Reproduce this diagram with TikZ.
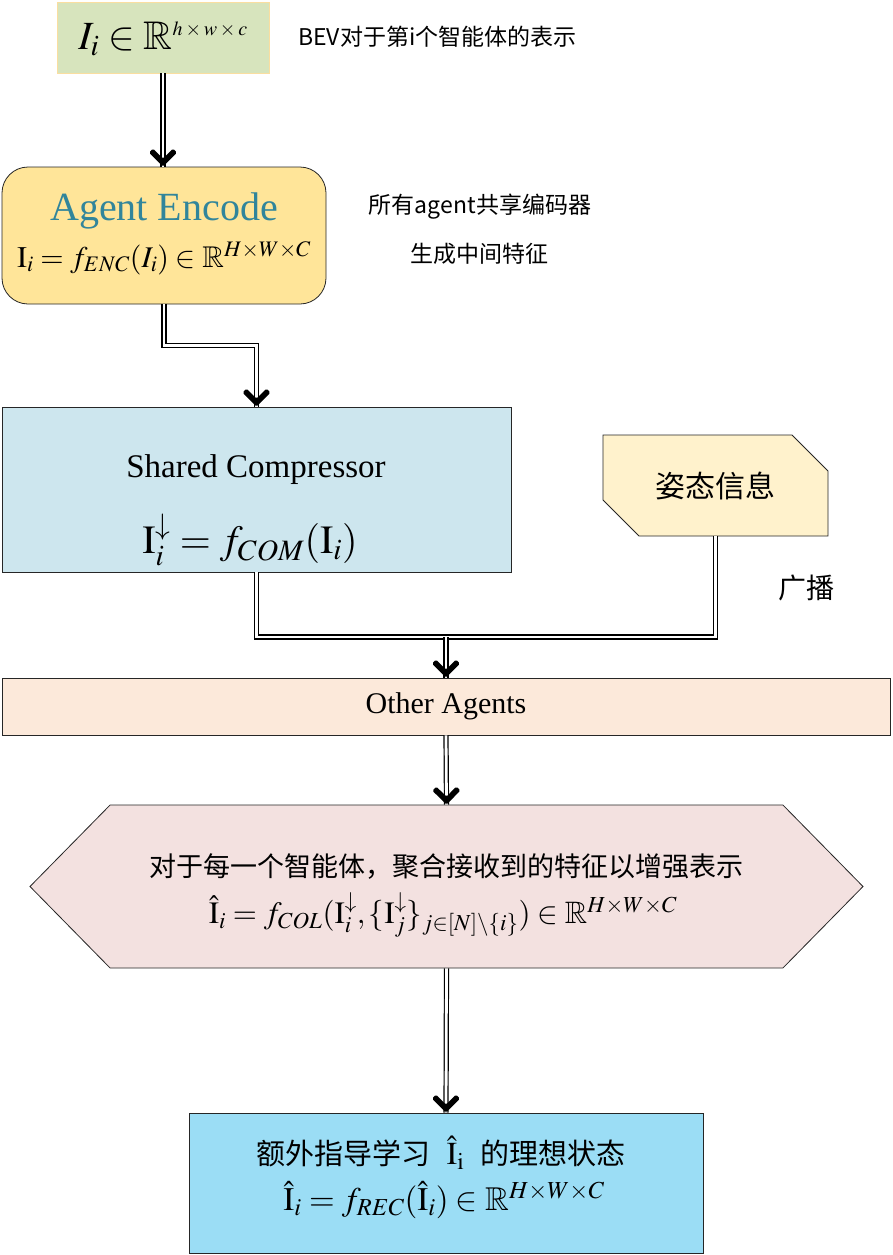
\documentclass[tikz,border=0pt]{standalone}
\usepackage{amsmath,amssymb}
\usepackage{mathptmx}
\usepackage{fontspec}
\setmainfont{Liberation Serif}
\newfontfamily\cjk{Noto Sans CJK SC}
\usetikzlibrary{shapes.misc, shapes.symbols, decorations.markings}
\definecolor{bevgreen}{RGB}{215,228,189}
\definecolor{bevedge}{RGB}{250,222,160}
\definecolor{encfill}{RGB}{255,229,153}
\definecolor{encteal}{RGB}{49,133,155}
\definecolor{compfill}{RGB}{205,230,238}
\definecolor{posefill}{RGB}{255,242,204}
\definecolor{otherfill}{RGB}{252,233,218}
\definecolor{colfill}{RGB}{243,225,224}
\definecolor{recfill}{RGB}{155,221,245}
\tikzset{
  flowline/.style={double=white, double distance=2.8pt, line width=1.2pt},
  flow/.style={flowline, postaction={decorate}, decoration={markings,
    mark=at position 1 with {\fill[black, rounded corners=1.5pt] (0pt,0pt) -- (-14pt,14pt) -- (-18pt,10pt)
      -- (-8pt,0pt) -- (-18pt,-10pt) -- (-14pt,-14pt) -- cycle;}}},
  box/.style={draw=black!85, line width=0.8pt, align=center, inner sep=0pt},
  inbox/.style={box, draw=bevedge, fill=bevgreen, minimum width=212, minimum height=71},
  encbox/.style={box, fill=encfill, rounded corners=26pt, minimum width=324, minimum height=137},
  compbox/.style={box, fill=compfill, minimum width=509, minimum height=165},
  posebox/.style={box, fill=posefill, chamfered rectangle, chamfered rectangle corners={north east, south west},
    chamfered rectangle sep=22pt, minimum width=225, minimum height=101},
  otherbox/.style={box, fill=otherfill, minimum width=888, minimum height=57},
  colbox/.style={box, fill=colfill, signal, signal to=east and west, signal pointer angle=91,
    minimum width=833, minimum height=163},
  recbox/.style={box, fill=recfill, minimum width=514, minimum height=140},
  sidetext/.style={font=\fontsize{23}{26}\selectfont\cjk, inner sep=0pt},
}
\newcommand{\supsz}[1]{\mbox{\fontsize{20}{20}\selectfont$#1$}}
\begin{document}
\begin{tikzpicture}[x=1pt, y=-1pt]
\useasboundingbox (0,0) rectangle (892,1255);
% input
\node[inbox] (bev) at (163,37.5) {};
\node[font=\fontsize{40}{40}\selectfont] (bevmath) at (163,39) {$I_i\in\mathbb{R}^{\supsz{h\times w\times c}}$};
\node[sidetext, anchor=west] (bevnote) at (298,37) {BEV对于第i个智能体的表示};
% encoder
\node[encbox] (enc) at (164,235.5) {};
\node[font=\fontsize{40}{40}\selectfont, text=encteal] (enctitle) at (164,211) {Agent Encode};
\node[font=\fontsize{30}{30}\selectfont] (encmath) at (164,258) {$\mathrm{I}_i = f_{ENC}(I_i)\in\mathbb{R}^{H\times W\times C}$};
\node[sidetext] (encnote) at (480,207) {所有agent共享编码器};
\node[sidetext] (featnote) at (479,254) {生成中间特征};
% compressor and pose
\node[compbox] (comp) at (256.5,489.5) {};
\node[font=\fontsize{33}{33}\selectfont] (comptitle) at (256,470) {Shared Compressor};
\node[font=\fontsize{40}{40}\selectfont] (compmath) at (250,540) {$\mathrm{I}_i^{\downarrow} = f_{COM}(\mathrm{I}_i)$};
\node[posebox, font=\fontsize{30}{32}\selectfont\cjk] (pose) at (715.5,485.5) {姿态信息};
\node[sidetext, font=\fontsize{28}{30}\selectfont\cjk] (bcast) at (806,588) {广播};
\coordinate (merge) at (446,637);
% other agents
\node[otherbox, font=\fontsize{30}{32}\selectfont] (other) at (446,706.5) {Other Agents};
% fusion
\node[colbox] (col) at (446.5,886.5) {};
\node[font=\fontsize{27}{30}\selectfont\cjk] (coltitle) at (446,867) {对于每一个智能体，聚合接收到的特征以增强表示};
\node[font=\fontsize{31}{31}\selectfont] (colmath) at (443,915) {$\hat{\mathrm{I}}_i = f_{COL}(\mathrm{I}_i^{\downarrow},\{\mathrm{I}_j^{\downarrow}\}_{j\in[N]\setminus\{i\}})\in\mathbb{R}^{H\times W\times C}$};
% reconstruction
\node[recbox] (rec) at (446,1183) {};
\node[font=\fontsize{32}{32}\selectfont] (rectitle) at (441,1153) {{\fontsize{29}{30}\selectfont\cjk 额外指导学习}\ \ $\hat{\mathrm{I}}_{\mathrm{i}}$\ \ {\fontsize{29}{30}\selectfont\cjk 的理想状态}};
\node[font=\fontsize{33}{33}\selectfont] (recmath) at (444,1200) {$\hat{\mathrm{I}}_i = f_{REC}(\hat{\mathrm{I}}_i)\in\mathbb{R}^{H\times W\times C}$};
% connectors
\draw[flow] (bev.south) -- (bev.south |- enc.north);
\draw[flow] (enc.south) -- ++(0,41) -| (comp.north);
\draw[flowline] (comp.south) |- (pose.south |- merge) -- (pose.south);
\draw[flow] (merge) -- (other.north);
\draw[flow] (other.south) -- (col.north);
\draw[flow] (col.south) -- (rec.north);
\end{tikzpicture}
\end{document}
